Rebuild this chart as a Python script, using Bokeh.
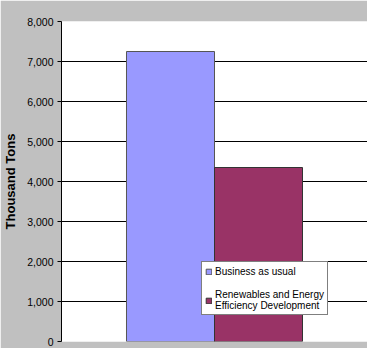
from bokeh.plotting import figure
from bokeh.models import ColumnDataSource, FactorRange, Range1d, Legend, LegendItem, NumeralTickFormatter, FixedTicker
from bokeh.transform import dodge
from bokeh.embed import file_html
from bokeh.resources import INLINE

categories = ["Scenario"]
series_names = ["Business as usual", "Renewables and Energy\nEfficiency Development"]
business_as_usual = [7250]
renewables = [4350]
y_ticks = [0, 1000, 2000, 3000, 4000, 5000, 6000, 7000, 8000]

src = ColumnDataSource(dict(cat=categories, bau=business_as_usual, ren=renewables))

p = figure(width=367, height=348, x_range=FactorRange(factors=categories, range_padding=0),
           y_range=Range1d(0, 8000), output_backend="svg", toolbar_location=None,
           min_border_left=61, min_border_top=21, min_border_bottom=7, min_border_right=0)

p.background_fill_color = "white"
p.border_fill_color = "#C0C0C0"
p.outline_line_color = None

bw = 0.2876
r1 = p.vbar(x=dodge("cat", -bw / 2, range=p.x_range), top="bau", width=bw, source=src,
            fill_color="#9999FF", line_color="#555555", line_width=1)
r2 = p.vbar(x=dodge("cat", bw / 2, range=p.x_range), top="ren", width=bw, source=src,
            fill_color="#993366", line_color="#333333", line_width=1)

p.xaxis.visible = False
p.xgrid.visible = False
p.ygrid.ticker = FixedTicker(ticks=y_ticks)
p.ygrid.grid_line_color = "black"
p.ygrid.grid_line_width = 1

ax = p.yaxis[0]
ax.ticker = FixedTicker(ticks=y_ticks)
ax.formatter = NumeralTickFormatter(format="0,0")
ax.axis_label = "Thousand Tons"
ax.axis_label_text_font = "Liberation Sans"
ax.axis_label_text_font_style = "bold"
ax.axis_label_text_font_size = "13px"
ax.axis_label_text_color = "black"
ax.axis_label_standoff = 6
ax.major_label_text_font = "Liberation Sans"
ax.major_label_text_font_size = "10.5px"
ax.major_label_text_color = "black"
ax.major_label_standoff = 4
ax.major_tick_out = 4
ax.major_tick_in = 0
ax.minor_tick_out = 0
ax.minor_tick_in = 0
ax.axis_line_color = "black"
ax.major_tick_line_color = "black"

legend = Legend(items=[LegendItem(label=series_names[0], renderers=[r1]),
                       LegendItem(label=series_names[1], renderers=[r2])],
                location=(140, 26), orientation="vertical")
legend.label_text_font = "Liberation Sans"
legend.label_text_font_size = "10px"
legend.label_text_color = "black"
legend.label_height = 12
legend.glyph_width = 7
legend.glyph_height = 7
legend.label_standoff = 3
legend.spacing = 12
legend.padding = 3
legend.margin = 0
legend.border_line_color = "black"
legend.border_line_width = 1
legend.background_fill_color = "white"
legend.background_fill_alpha = 1
p.add_layout(legend, "center")

open("out.html", "w").write(file_html(p, INLINE))
